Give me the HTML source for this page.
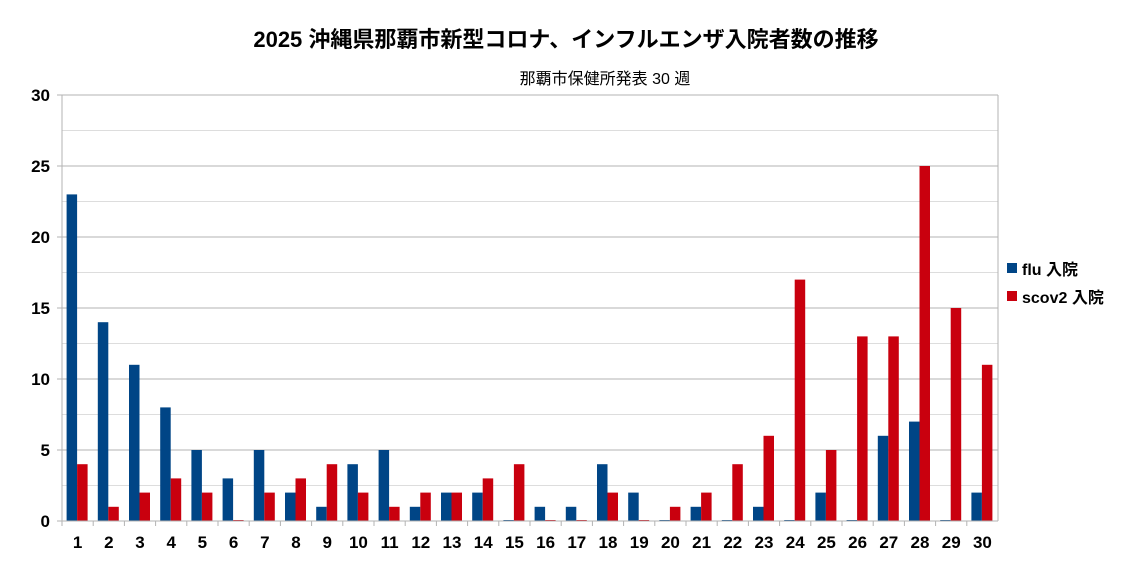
<!DOCTYPE html>
<html><head><meta charset="utf-8"><style>
body{margin:0;background:#fff;font-family:"Liberation Sans","Noto Sans CJK JP",sans-serif}
</style></head><body>
<svg id="chart" width="1132" height="565" xmlns="http://www.w3.org/2000/svg">
<text x="566" y="47" text-anchor="middle" font-size="22" font-weight="bold" font-family="Liberation Sans, Noto Sans CJK JP, sans-serif">2025 沖縄県那覇市新型コロナ、インフルエンザ入院者数の推移</text>
<text x="605" y="84" text-anchor="middle" font-size="16" font-family="Liberation Sans, Noto Sans CJK JP, sans-serif">那覇市保健所発表 30 週</text>
<g id="grid"></g><g id="bars"></g><g id="axes"></g>
<g>
<rect x="1007" y="263" width="10" height="10" fill="#004586"/>
<text x="1022" y="275" font-size="16" font-weight="bold" font-family="Liberation Sans, Noto Sans CJK JP, sans-serif">flu 入院</text>
<rect x="1007" y="291" width="10" height="10" fill="#c9000e"/>
<text x="1022" y="303" font-size="16" font-weight="bold" font-family="Liberation Sans, Noto Sans CJK JP, sans-serif">scov2 入院</text>
</g>
</svg>
<script>
const categories=[1,2,3,4,5,6,7,8,9,10,11,12,13,14,15,16,17,18,19,20,21,22,23,24,25,26,27,28,29,30];
const fluValues=[23,14,11,8,5,3,5,2,1,4,5,1,2,2,0,1,1,4,2,0,1,0,1,0,2,0,6,7,0,2];
const scovValues=[4,1,2,3,2,0,2,3,4,2,1,2,2,3,4,0,0,2,0,1,2,4,6,17,5,13,13,25,15,11];
const yTicks=[0,5,10,15,20,25,30];
const NS="http://www.w3.org/2000/svg";
const X0=62,X1=998,Y0=521,Y1=95,YMAX=30;
const cw=(X1-X0)/categories.length;
const y=v=>Y0-(v/YMAX)*(Y0-Y1);
const xc=i=>X0+i*cw;
function mk(t,a,p){const e=document.createElementNS(NS,t);for(const k in a)e.setAttribute(k,a[k]);p.appendChild(e);return e;}
const grid=document.getElementById('grid'),bars=document.getElementById('bars'),axes=document.getElementById('axes');
for(let v=0;v<=YMAX;v+=2.5){
 const l=mk('line',{x1:X0,x2:X1,y1:y(v),y2:y(v),stroke:v%5===0?'#b3b3b3':'#dddddd','stroke-width':1},grid);
 
 
}
mk('line',{x1:X1,x2:X1,y1:Y1,y2:Y0,stroke:'#b3b3b3'},grid);
yTicks.forEach(v=>{
 const t=mk('text',{x:X0-12,y:y(v)+6,'text-anchor':'end','font-size':17,'font-weight':'bold'},axes);
 t.textContent=v;
 
 
 mk('line',{x1:X0-5,x2:X0,y1:y(v),y2:y(v),stroke:'#b3b3b3'},axes);
});
mk('line',{x1:X0,x2:X0,y1:Y1,y2:Y0,stroke:'#b3b3b3'},axes);
mk('line',{x1:X0,x2:X1,y1:Y0,y2:Y0,stroke:'#b3b3b3'},axes);
const bw=10.5;
categories.forEach((c,i)=>{
 mk('line',{x1:xc(i),x2:xc(i),y1:Y0,y2:Y0+5,stroke:'#b3b3b3'},axes);
 const t=mk('text',{x:xc(i)+cw/2,y:Y0+27,'text-anchor':'middle','font-size':17,'font-weight':'bold'},axes);
 t.textContent=c;
 
 
 const bx=xc(i)+4.6;
 const f=mk('rect',{x:bx,y:y(fluValues[i])-(fluValues[i]?0:1),width:bw,height:Math.max(1,Y0-y(fluValues[i])),fill:'#004586'},bars);
 
 
 const s=mk('rect',{x:bx+bw,y:y(scovValues[i])-(scovValues[i]?0:1),width:bw,height:Math.max(1,Y0-y(scovValues[i])),fill:'#c9000e'},bars);
 
 
});
mk('line',{x1:X0,x2:X0,y1:Y1,y2:Y0,stroke:'#b3b3b3'},axes);
</script>
</body></html>
